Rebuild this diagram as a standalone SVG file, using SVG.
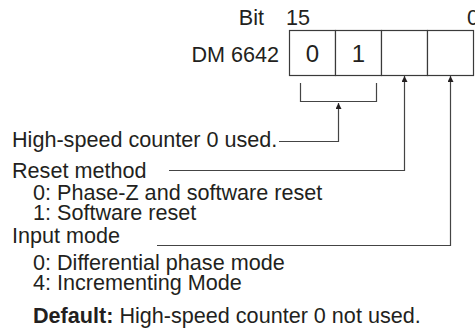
<svg xmlns="http://www.w3.org/2000/svg" width="475" height="329" viewBox="0 0 475 329">
<defs>
<style>
text{font-family:"Liberation Sans",Arial,Helvetica,sans-serif;font-size:21.6px;fill:#231f20}
.b{font-weight:bold}
.d{font-size:24px}
.box{fill:#fff;stroke:#3a3a3a;stroke-width:1.2}
.ln{fill:none;stroke:#444;stroke-width:1.2}
</style>
<marker id="ah" viewBox="0 0 10 10" refX="10" refY="5" markerWidth="10" markerHeight="6" markerUnits="userSpaceOnUse" orient="auto">
<path d="M0,0 L10,5 L0,10 Z" fill="#231f20"/>
</marker>
</defs>
<g id="bit-label">
<text x="264" y="25" text-anchor="end">Bit</text>
<text x="286" y="25">15</text>
<text x="467" y="25">0</text>
</g>
<g id="register">
<text x="279" y="62" text-anchor="end">DM 6642</text>
<rect class="box" x="289.5" y="30.5" width="46" height="45"/>
<rect class="box" x="335.5" y="30.5" width="46" height="45"/>
<rect class="box" x="381.5" y="30.5" width="46" height="45"/>
<rect class="box" x="427.5" y="30.5" width="46" height="45"/>
<text class="d" x="312.5" y="62" text-anchor="middle">0</text>
<text class="d" x="358.5" y="62" text-anchor="middle">1</text>
</g>
<g id="connectors">
<path class="ln" d="M300.5,83 V101.5 H376.5 V83"/>
<path class="ln" d="M279,141.5 H338.5 V103" marker-end="url(#ah)"/>
<path class="ln" d="M169,170.5 H404.5 V76" marker-end="url(#ah)"/>
<path class="ln" d="M157,245.5 H450.5 V76" marker-end="url(#ah)"/>
</g>
<g id="counter-label">
<text x="12" y="147">High-speed counter 0 used.</text>
</g>
<g id="reset-label">
<text x="12" y="178">Reset method</text>
<text x="33" y="200">0: Phase-Z and software reset</text>
<text x="33" y="220">1: Software reset</text>
</g>
<g id="input-label">
<text x="12" y="243">Input mode</text>
<text x="33" y="270">0: Differential phase mode</text>
<text x="33" y="290">4: Incrementing Mode</text>
</g>
<g id="default-label">
<text x="33" y="323"><tspan class="b">Default:</tspan> High-speed counter 0 not used.</text>
</g>
</svg>
